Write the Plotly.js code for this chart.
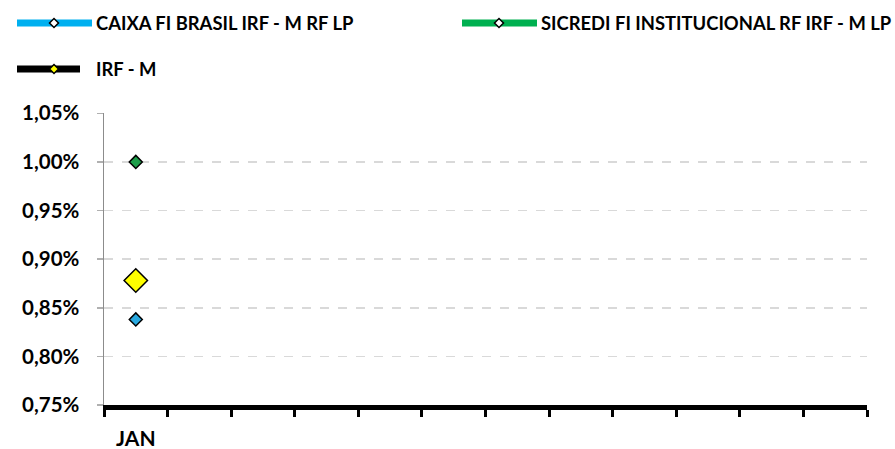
<!DOCTYPE html>
<html>
<head>
<meta charset="utf-8">
<script src="https://cdn.plot.ly/plotly-3.0.1.min.js"></script>
<style>html,body{margin:0;padding:0;background:#fff;}#chart{width:895px;height:449px;}</style>
</head>
<body>
<div id="chart"></div>
<script>
const months = ["JAN","FEV","MAR","ABR","MAI","JUN","JUL","AGO","SET","OUT","NOV","DEZ"];
const monthLabels = ["JAN","","","","","","","","","","",""];
const seriesNames = ["CAIXA FI BRASIL IRF - M RF LP","SICREDI FI INSTITUCIONAL RF IRF - M LP","IRF - M"];
const caixa = [0.838];
const sicredi = [1.000];
const irfm = [0.878];
const yTicks = [0.75,0.80,0.85,0.90,0.95,1.00,1.05];
const yTickText = yTicks.map(v => v.toFixed(2).replace(".", ",") + "%");

const font = "Lato, 'Open Sans', sans-serif";
const W = 895, H = 449, M = {l:104, r:28, t:113, b:44};
const PW = W - M.l - M.r, PH = H - M.t - M.b;
const px = x => (x - M.l) / PW;          // pixel -> paper x
const py = y => (H - M.b - y) / PH;      // pixel -> paper y

const styles = [
  {line:"#00B0F0", fill:"#29A9E0", size:10, legFill:"#ffffff", legLen:75},
  {line:"#00B050", fill:"#1E9E4A", size:10, legFill:"#ffffff", legLen:75},
  {line:"#000000", fill:"#FFFF00", size:18, legFill:"#FFFF00", legLen:63}
];
const values = [caixa, sicredi, irfm];

const data = values.map((vals, i) => ({
  type:"scatter", mode:"lines+markers", name:seriesNames[i], showlegend:false,
  x: months.slice(0, vals.length), y: vals,
  line:{color:styles[i].line, width:5},
  marker:{symbol:"diamond", size:styles[i].size, color:styles[i].fill, line:{color:"#000", width:1.5}}
}));

// custom legend (layout decoration)
const legPos = [{x:17, y:23}, {x:462, y:23}, {x:17, y:69}];
const shapes = [], annotations = [];
legPos.forEach((p, i) => {
  const s = styles[i];
  shapes.push({type:"line", xref:"paper", yref:"paper", layer:"above",
    x0:px(p.x), x1:px(p.x + s.legLen), y0:py(p.y), y1:py(p.y),
    line:{color:s.line, width:7}});
  const cx = p.x + 37, r = 4.5;
  shapes.push({type:"path", xref:"paper", yref:"paper", layer:"above",
    path:`M ${px(cx-r)} ${py(p.y)} L ${px(cx)} ${py(p.y-r)} L ${px(cx+r)} ${py(p.y)} L ${px(cx)} ${py(p.y+r)} Z`,
    fillcolor:s.legFill, line:{color:"#000", width:1.5}});
  annotations.push({xref:"paper", yref:"paper", x:px(p.x + 77), y:py(p.y), xanchor:"left", yanchor:"middle",
    showarrow:false, text:seriesNames[i], font:{family:font, size:18.4, weight:700, color:"#000"}});
});

const layout = {
  width:W, height:H, margin:M,
  paper_bgcolor:"#fff", plot_bgcolor:"#fff",
  font:{family:font, size:15, color:"#000", weight:700},
  showlegend:false, shapes:shapes, annotations:annotations,
  xaxis:{type:"category", categoryorder:"array", categoryarray:months, range:[-0.5,11.5],
    tickmode:"array", tickvals:months, ticktext:monthLabels, tickson:"boundaries",
    ticks:"outside", ticklen:7, tickwidth:3, tickcolor:"#000",
    showline:true, linewidth:5, linecolor:"#000", showgrid:false, zeroline:false,
    tickfont:{family:font, size:21, weight:700}, ticklabelstandoff:11, fixedrange:true},
  yaxis:{range:[0.75,1.0503], tickmode:"array", tickvals:yTicks, ticktext:yTickText,
    showline:true, linewidth:1.5, linecolor:"#8c8c8c",
    ticks:"outside", ticklen:6, tickwidth:1.5, tickcolor:"#b0b0b0",
    showgrid:true, gridcolor:"#d9d9d9", griddash:"dash", gridwidth:1.5, zeroline:false,
    tickfont:{family:font, size:20.5, weight:700}, ticklabelstandoff:13, fixedrange:true}
};
Plotly.newPlot("chart", data, layout, {displayModeBar:false, staticPlot:true});
</script>
</body>
</html>
